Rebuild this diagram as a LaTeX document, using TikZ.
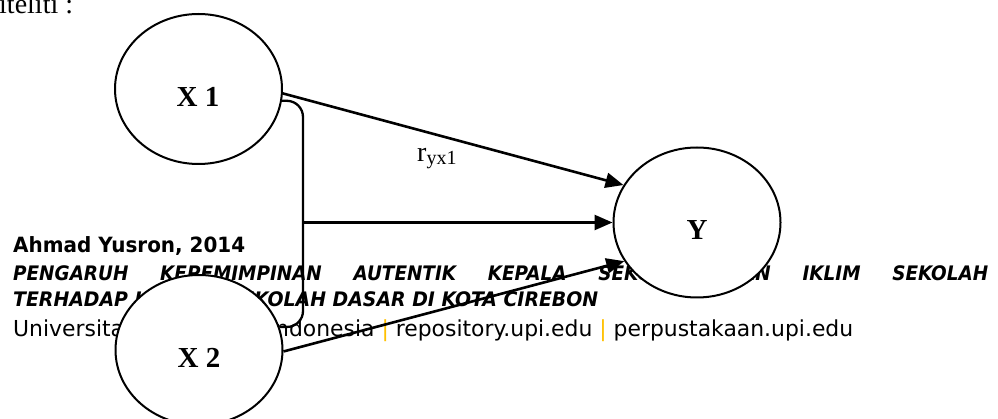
\documentclass[tikz,border=0pt]{standalone}
\usepackage{fontspec}
\setmainfont{Liberation Serif}
\newfontfamily\footfont{DejaVu Sans}
\usetikzlibrary{shapes.geometric,arrows.meta}
\definecolor{upiorange}{RGB}{255,192,0}
\begin{document}
\begin{tikzpicture}[x=1pt,y=1pt,
  circ/.style={ellipse, draw, line width=2pt, fill=white, minimum width=167pt, minimum height=150pt, inner sep=0pt},
  lbl/.style={inner sep=0pt, font=\bfseries\fontsize{29}{30}\selectfont},
  foot/.style={anchor=base west, inner sep=0pt},
  conn/.style={line width=2.6pt},
  arr/.style={conn, -{Triangle[length=18pt,width=15pt]}}]
\useasboundingbox (0,0) rectangle (998,-419);
% top text
\node[foot, font=\fontsize{28}{30}\selectfont] (toptext) at (-1,-14) {iteliti :};
% footer
\node[foot, font=\footfont\fontsize{21}{24}\selectfont\bfseries] (author) at (13,-253) {\resizebox{232pt}{\height}{Ahmad Yusron, 2014}};
\node[foot, font=\footfont\fontsize{20}{22}\selectfont\bfseries\itshape] (title1) at (13,-281) {\resizebox{975pt}{\height}{\hbox to 1060pt{PENGARUH\hfill KEPEMIMPINAN\hfill AUTENTIK\hfill KEPALA\hfill SEKOLAH\hfill DAN\hfill IKLIM\hfill SEKOLAH}}};
\node[foot, font=\footfont\fontsize{20}{22}\selectfont\bfseries\itshape] (title2) at (13,-307) {\resizebox{585pt}{\height}{TERHADAP KINERJA SEKOLAH DASAR DI KOTA CIREBON}};
\node[foot, font=\footfont\fontsize{22}{24}\selectfont] (univ) at (13,-336) {\resizebox{840pt}{\height}{Universitas Pendidikan Indonesia \textcolor{upiorange}{|} repository.upi.edu \textcolor{upiorange}{|} perpustakaan.upi.edu}};
% circles
\node[circ] (x1) at (198.5,-89) {};
\node[circ] (x2) at (199,-350) {};
\node[circ] (y) at (697,-222.5) {};
\node[lbl] (x1l) at (198,-96.5) {X 1};
\node[lbl] (x2l) at (199,-357.5) {X 2};
\node[lbl] (yl) at (697,-230.5) {Y};
% label
\node[foot] (r) at (417,-162) {\fontsize{28}{30}\selectfont r\raisebox{-3pt}{\fontsize{20}{20}\selectfont yx1}};
% connectors
\coordinate (bt) at (303,-101);
\coordinate (bb) at (303,-327);
\coordinate (bm) at (303,-222.5);
\draw[arr] (x1.-3.5) -- (y.153);
\draw[conn, line width=2.3pt, rounded corners=16pt] (x1.-8.4) -- (bt) -- (bb) -- (x2.16);
\draw[arr] (bm) -- (y.west);
\draw[arr] (x2.-1) -- (y.208);
\end{tikzpicture}
\end{document}
